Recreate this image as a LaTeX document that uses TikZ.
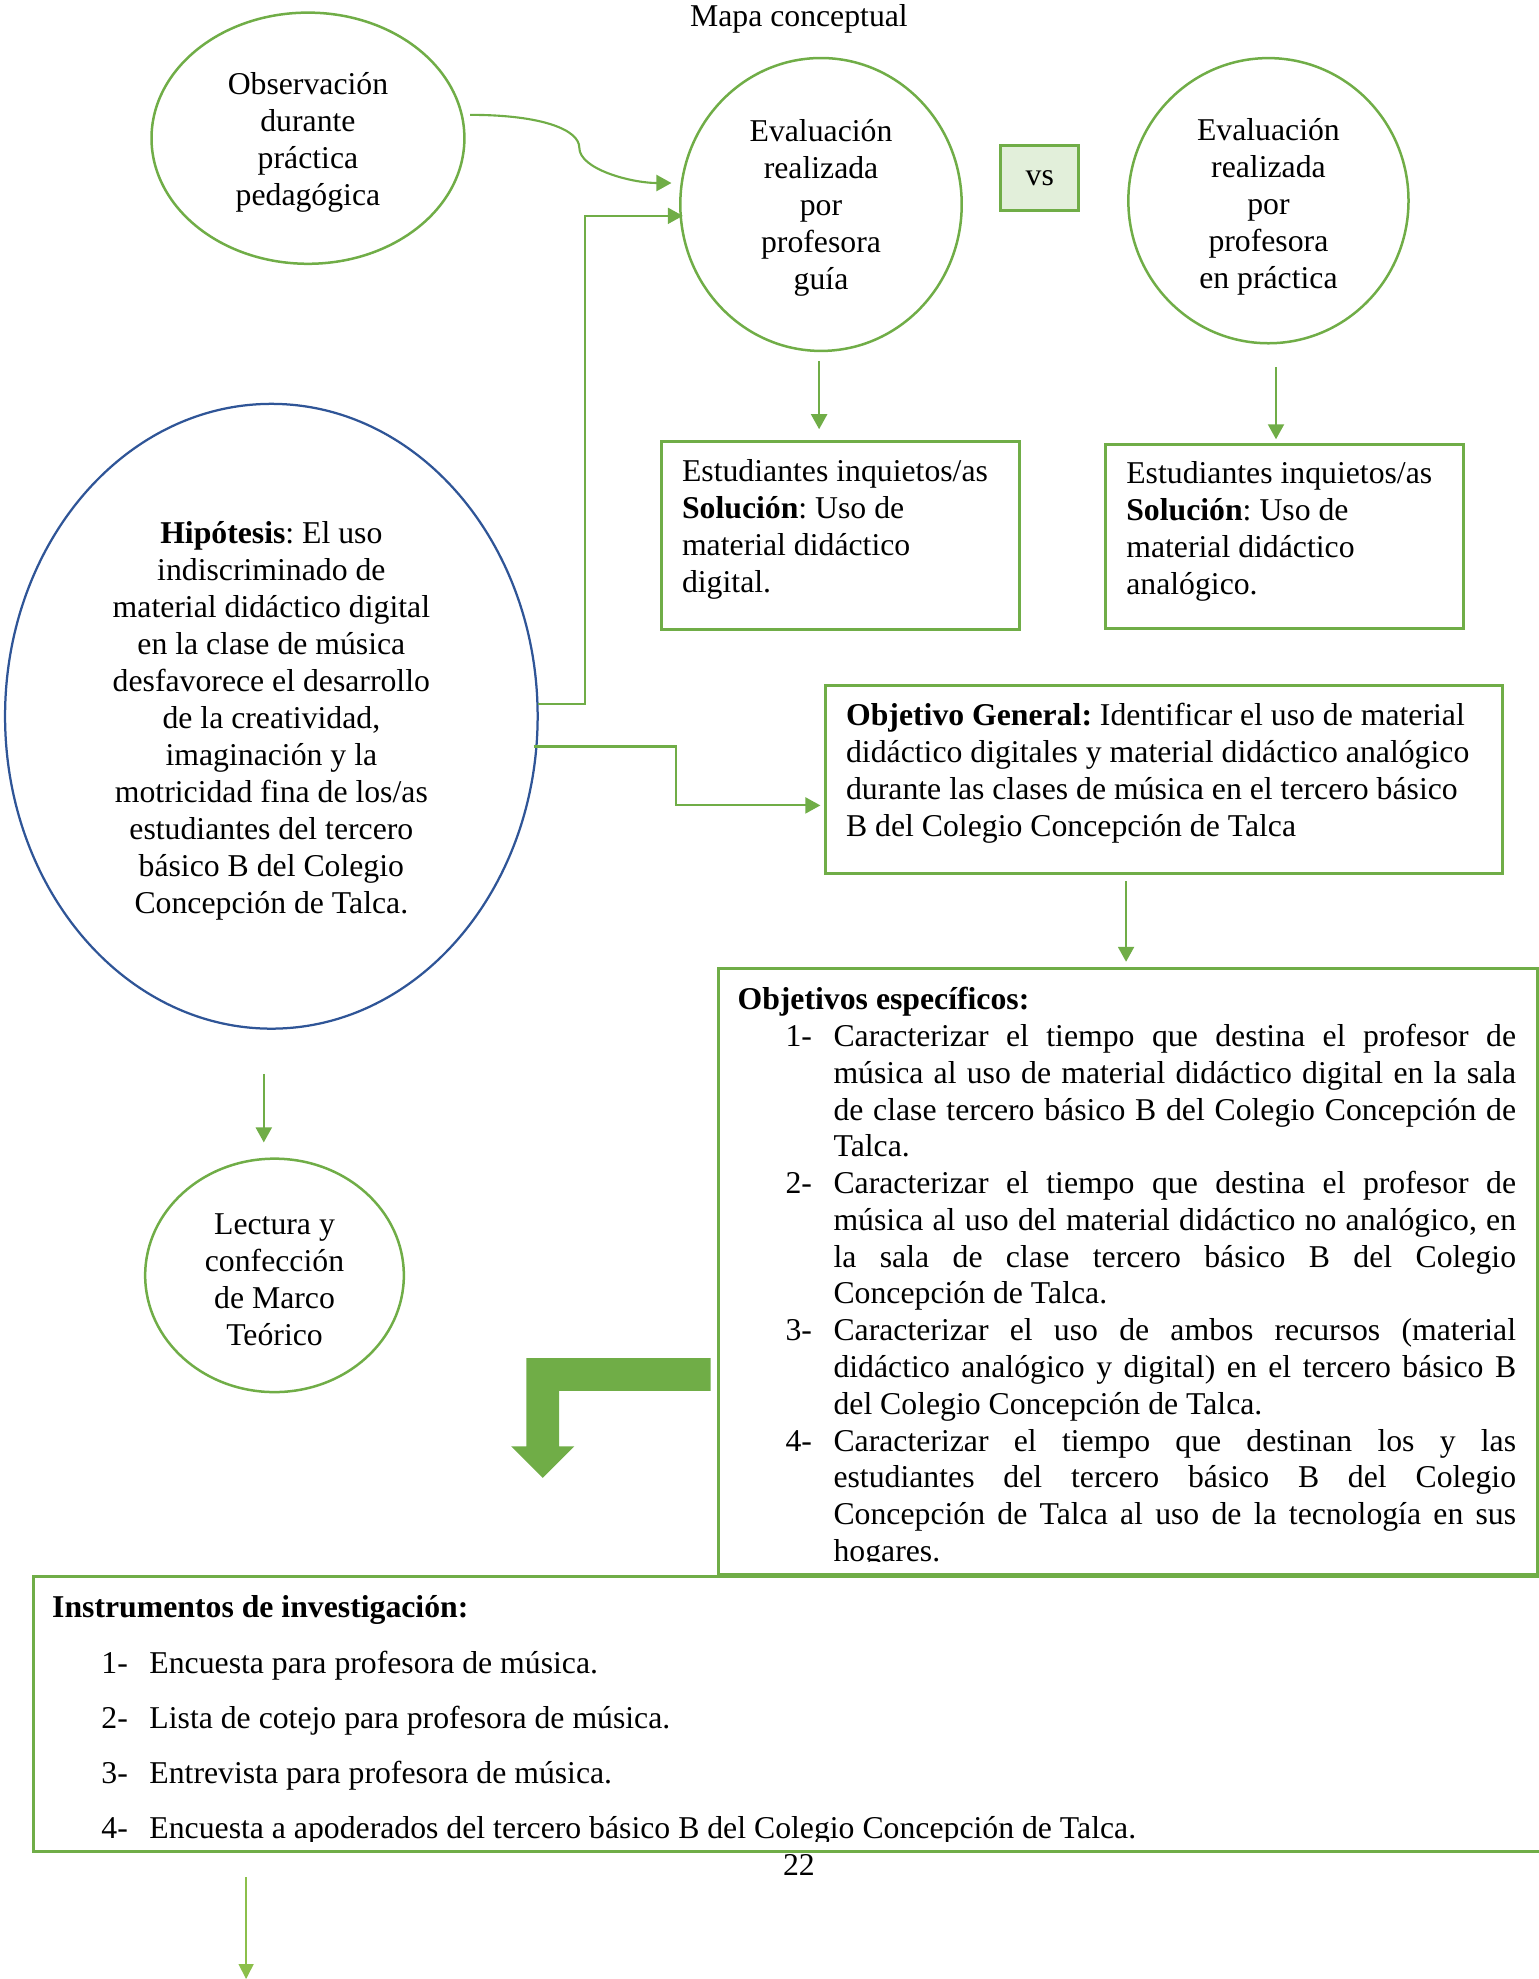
\documentclass[tikz,border=0pt]{standalone}
\usepackage{fontspec}
\setmainfont{Liberation Serif}
\usetikzlibrary{calc,arrows.meta,shapes.geometric}
\definecolor{grn}{HTML}{70AD47}
\definecolor{lgrn}{HTML}{8CBF4B}
\definecolor{hblue}{HTML}{2F5597}
\definecolor{vsfill}{HTML}{E2EFDA}
\newcommand\mfs{\fontsize{12.7pt}{14.8pt}\selectfont}
\newcommand\hstrut[1]{\rule{0pt}{#1}}
\newcommand\itm[1]{\hangindent=38.4pt\hangafter=1\noindent\hspace*{19.2pt}\makebox[19.2pt][l]{#1}}
\begin{document}
\frenchspacing
\begin{tikzpicture}[x=0.505pt,y=-0.505pt,
  every node/.style={font=\mfs},
  gellipse/.style={ellipse, draw=grn, line width=1pt, inner sep=0pt, align=center},
  gbox/.style={rectangle, draw=grn, line width=1.2pt, inner sep=0pt, anchor=north west},
  txt/.style={inner sep=0pt, anchor=north west},
  arr/.style={draw=grn, line width=0.85pt, -{Triangle[length=6pt,width=6.4pt]}},
  larr/.style={draw=lgrn, line width=0.6pt, -{Triangle[length=6pt,width=6pt]}}
]
\useasboundingbox (0,0) rectangle (1219,1568);

% title and page number
\node[inner sep=0pt] (title) at (633,15) {Mapa conceptual};
\node[inner sep=0pt] (pnum) at (633,1478) {22};

% ellipses
\node[gellipse, minimum width=125.2pt, minimum height=100.5pt] (obs) at (244,109.5)
  {\hstrut{12.2pt}Observación\\durante\\práctica\\pedagógica};
\node[gellipse, minimum width=112.6pt, minimum height=117.2pt] (evg) at (650.5,162)
  {\hstrut{11.2pt}Evaluación\\realizada\\por\\profesora\\guía};
\node[gellipse, minimum width=112.1pt, minimum height=114.1pt] (evp) at (1005,159)
  {\hstrut{13.7pt}Evaluación\\realizada\\por\\profesora\\en práctica};
\node[rectangle, draw=grn, fill=vsfill, line width=1.2pt, inner sep=0pt,
  minimum width=31.4pt, minimum height=25.9pt] (vs) at (823.8,141.3) {vs};

\node[ellipse, draw=hblue, line width=0.9pt, inner sep=0pt, align=center,
  minimum width=213.1pt, minimum height=250pt] (hip) at (215,567.5)
  {\hstrut{12.3pt}\textbf{Hipótesis}: El uso\\indiscriminado de\\material didáctico digital\\en la clase de música\\desfavorece el desarrollo\\de la creatividad,\\imaginación y la\\motricidad fina de los/as\\estudiantes del tercero\\básico B del Colegio\\Concepción de Talca.};

\node[gellipse, minimum width=103.5pt, minimum height=93.4pt] (lec) at (217.5,1010.5)
  {\hstrut{11.9pt}Lectura y\\confección\\de Marco\\Teórico};

% boxes
\node[gbox, minimum width=143.4pt, minimum height=75.2pt] (box1) at (523,349) {};
\node[txt, align=left] (t1) at (540,364)
  {Estudiantes inquietos/as\\\textbf{Solución}: Uso de\\material didáctico\\digital.};
\node[gbox, minimum width=142.9pt, minimum height=73.7pt] (box2) at (875,351) {};
\node[txt, align=left] (t2) at (892,365)
  {Estudiantes inquietos/as\\\textbf{Solución}: Uso de\\material didáctico\\analógico.};

\node[gbox, minimum width=270.7pt, minimum height=75.2pt] (og) at (653,542) {};
\node[txt, align=left] (tog) at (670,557)
  {\textbf{Objetivo General:} Identificar el uso de material\\didáctico digitales y material didáctico analógico\\durante las clases de música en el tercero básico\\B del Colegio Concepción de Talca};

\node[gbox, minimum width=327.7pt, minimum height=242.4pt] (oe) at (568,766) {};
\begin{scope}
\clip (560,770) rectangle (1216,1237);
\node[txt, text width=311.5pt, font=\fontsize{12.7pt}{14.71pt}\selectfont] (toe) at (584,782) {\tolerance=10000\hbadness=10000
\leftskip=0pt\rightskip=0pt\parfillskip=0pt plus 1fil
\spaceskip=0.25em plus 0.6em minus 0.08em\xspaceskip=0pt
\noindent\textbf{Objetivos específicos:}\par
\itm{1-}Caracterizar el tiempo que destina el profesor de\linebreak música al uso de material didáctico digital en la sala\linebreak de clase tercero básico B del Colegio Concepción de\linebreak Talca.\par
\itm{2-}Caracterizar el tiempo que destina el profesor de\linebreak música al uso del material didáctico no analógico, en\linebreak la sala de clase tercero básico B del Colegio\linebreak Concepción de Talca.\par
\itm{3-}Caracterizar el uso de ambos recursos (material\linebreak didáctico analógico y digital) en el tercero básico B\linebreak del Colegio Concepción de Talca.\par
\itm{4-}Caracterizar el tiempo que destinan los y las\linebreak estudiantes del tercero básico B del Colegio\linebreak Concepción de Talca al uso de la tecnología en sus\linebreak hogares.\par};
\end{scope}

\node[gbox, minimum width=620pt, minimum height=110.1pt] (ins) at (25,1248) {};
\begin{scope}
\clip (20,1250) rectangle (1219,1459);
\node[txt, align=left, font=\fontsize{12.7pt}{22.1pt}\selectfont] (tins) at (41,1264)
  {\textbf{Instrumentos de investigación:}\\
  \hspace*{19.7pt}\makebox[19.2pt][l]{1-}Encuesta para profesora de música.\\
  \hspace*{19.7pt}\makebox[19.2pt][l]{2-}Lista de cotejo para profesora de música.\\
  \hspace*{19.7pt}\makebox[19.2pt][l]{3-}Entrevista para profesora de música.\\
  \hspace*{19.7pt}\makebox[19.2pt][l]{4-}Encuesta a apoderados del tercero básico B del Colegio Concepción de Talca.};
\end{scope}

% connectors
\draw[arr] ($(obs.east)+(3.5,-18.5)$) .. controls (430,91) and (459,103) .. (459,117)
  .. controls (459,134) and (500,145) .. ($(evg.west)+(-6,-17)$);

\coordinate (h1) at ($(hip.east)+(-1,-9.5)$);
\coordinate (evgin) at ($(evg.west)+(3,9)$);
\draw[arr] (h1) -- ++(37.5,0) |- (evgin);

\coordinate (h2) at ($(hip.east)+(-4,24)$);
\coordinate (ogin) at ($(og.west)+(-3,20.5)$);
\draw[arr] (h2) -- ++(113,0) |- (ogin);

\coordinate (e1s) at ($(evg.south)+(-1.5,7)$);
\coordinate (e1e) at (e1s |- box1.north);
\draw[arr, shorten >=4.5pt] (e1s) -- (e1e);

\coordinate (e2s) at ($(evp.south)+(6,18)$);
\coordinate (e2e) at (e2s |- box2.north);
\draw[arr, shorten >=1.5pt] (e2s) -- (e2e);

\coordinate (o1s) at ($(og.south)+(-30,5)$);
\coordinate (o1e) at (o1s |- oe.north);
\draw[arr, shorten >=2pt] (o1s) -- (o1e);

\coordinate (hs) at ($(hip.south)+(-6,35)$);
\coordinate (he) at (hs |- lec.north);
\draw[arr, shorten >=6pt] (hs) -- (he);

\coordinate (bs) at ($(ins.south west)+(170,19)$);
\coordinate (be) at (195,1568);
\draw[larr] (bs) -- (be);

% block arrow
\fill[grn] (563,1076) -- (417,1076) -- (417,1146) -- (405,1146) -- (430,1171)
  -- (455,1146) -- (443,1146) -- (443,1102) -- (563,1102) -- cycle;
\end{tikzpicture}
\end{document}
